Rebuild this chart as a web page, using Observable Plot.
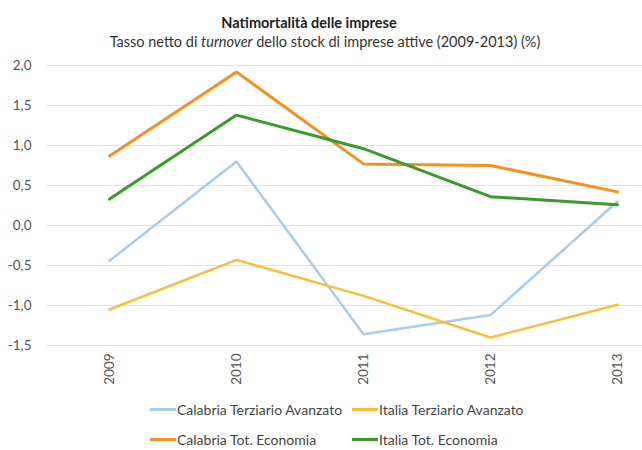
<!DOCTYPE html>
<html>
<head>
<meta charset="utf-8">
<script src="https://cdn.jsdelivr.net/npm/d3@7"></script>
<script src="https://cdn.jsdelivr.net/npm/@observablehq/plot@0.6"></script>
<style>
  body { margin: 0; background: #fff; font-family: Lato, "Open Sans", sans-serif; }
  #wrap { width: 642px; height: 450px; position: relative; overflow: hidden; }
  .title { position: absolute; top: 14px; width: 642px; left: -12px; text-align: center; font-weight: bold; font-size: 14.5px; color: #222; }
  .subtitle { position: absolute; top: 33px; width: 642px; left: 4px; text-align: center; font-size: 14.5px; color: #333; }
  #chart { position: absolute; top: 55px; left: 0; }
  .legend { position: absolute; top: 399px; left: 150px; display: grid; grid-template-columns: 202px 230px; row-gap: 10px; font-size: 14px; color: #444; }
  .item { display: flex; align-items: center; height: 20px; white-space: nowrap; }
  .sw { width: 26px; height: 3px; margin-right: 1px; }
</style>
</head>
<body>
<div id="wrap">
  <div class="title">Natimortalità delle imprese</div>
  <div class="subtitle">Tasso netto di <i>turnover</i> dello stock di imprese attive (2009-2013) (%)</div>
  <div id="chart"></div>
  <div class="legend" id="legend"></div>
</div>
<script>
const years = ["2009", "2010", "2011", "2012", "2013"];
const calabriaTerziario = [-0.44, 0.80, -1.36, -1.12, 0.30];
const italiaTerziario = [-1.05, -0.43, -0.88, -1.40, -0.99];
const calabriaTot = [0.87, 1.92, 0.77, 0.75, 0.42];
const italiaTot = [0.33, 1.38, 0.96, 0.36, 0.26];
const yTicks = [-1.5, -1.0, -0.5, 0.0, 0.5, 1.0, 1.5, 2.0];

const seriesNames = ["Calabria Terziario Avanzato", "Italia Terziario Avanzato", "Calabria Tot. Economia", "Italia Tot. Economia"];
const seriesValues = [calabriaTerziario, italiaTerziario, calabriaTot, italiaTot];
const colors = ["#a9cde8", "#f8c03a", "#f7901e", "#3a9a2c"];
const widths = [2.5, 2.5, 3, 3];

const rows = [];
seriesNames.forEach((name, i) => {
  years.forEach((yr, j) => rows.push({ series: name, year: yr, value: seriesValues[i][j] }));
});

const fmt = d => d.toFixed(1).replace(".", ",");

const marks = [
  Plot.ruleY(yTicks, { stroke: "#e3e3e3", strokeWidth: 1 }),
  Plot.axisY({ ticks: yTicks, tickFormat: fmt, tickSize: 0, tickPadding: 15, fontSize: 13.5, fill: "#555" }),
  Plot.axisX({ tickSize: 0, tickRotate: -90, tickPadding: 8, fontSize: 13.5, fill: "#555" })
];
seriesNames.forEach((name, i) => {
  marks.push(Plot.line(rows.filter(r => r.series === name), {
    x: "year", y: "value", stroke: colors[i], strokeWidth: widths[i], strokeLinejoin: "miter"
  }));
});

const plot = Plot.plot({
  width: 642,
  height: 340,
  marginTop: 10,
  marginBottom: 50,
  marginLeft: 46,
  marginRight: 0,
  style: { fontFamily: "Lato, 'Open Sans', sans-serif", background: "#fff" },
  x: { type: "point", domain: years, padding: 0, insetLeft: 62, insetRight: 24, label: null },
  y: { domain: [-1.5, 2.0], label: null },
  marks
});
document.getElementById("chart").appendChild(plot);

const legend = document.getElementById("legend");
[0, 1, 2, 3].forEach(i => {
  const item = document.createElement("div");
  item.className = "item";
  const sw = document.createElement("span");
  sw.className = "sw";
  sw.style.background = colors[i];
  item.appendChild(sw);
  const t = document.createElement("span");
  t.textContent = seriesNames[i];
  item.appendChild(t);
  legend.appendChild(item);
});
</script>
</body>
</html>
